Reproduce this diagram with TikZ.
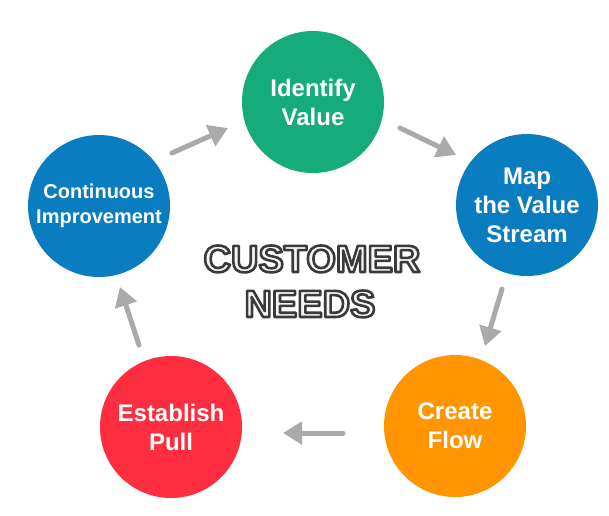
\documentclass[tikz,border=0pt]{standalone}
\usepackage{fontspec}
\setmainfont{Liberation Sans}
\usetikzlibrary{arrows.meta}
\definecolor{cgreen}{HTML}{15AB7B}
\definecolor{cblue}{HTML}{0A7DC0}
\definecolor{corange}{HTML}{FF9500}
\definecolor{cred}{HTML}{FE2E40}
\definecolor{carrow}{HTML}{AAAAAA}
\definecolor{cfill}{HTML}{F5F5F5}
\newcommand\cnOutline[1]{{\color{cfill}\special{pdf:literal direct 2 Tr 2.6 w 1 j 0.227 0.227 0.227 RG}#1\special{pdf:literal direct 0 Tr 1 w}}}
\tikzset{
  stage/.style={circle, minimum size=142pt, inner sep=0pt, text=white,
    font=\bfseries\fontsize{24}{29}\selectfont, align=center},
  smallstage/.style={stage, font=\bfseries\fontsize{20}{25}\selectfont},
  flowarrow/.style={draw=carrow, line width=5pt, line cap=round,
    -{Triangle[length=19pt,width=22pt]}},
  bigword/.style={anchor=base, inner sep=0pt, font=\bfseries\fontsize{38}{45}\selectfont}
}
\begin{document}
\begin{tikzpicture}[x=1pt,y=-1pt]
\useasboundingbox[fill=white] (0,0) rectangle (609,515);
\node[stage, fill=cgreen] (A) at (313,102) {Identify\\Value};
\node[stage, fill=cblue] (B) at (527,205) {Map\\the Value\\Stream};
\node[stage, fill=corange] (C) at (455,426) {Create\\Flow};
\node[stage, fill=cred] (D) at (171,427) {Establish\\Pull};
\node[smallstage, fill=cblue] (E) at (99,206) {Continuous\\Improvement};
% arrow ends
\coordinate (e1s) at (172,153); \coordinate (e1t) at (228,128);
\coordinate (e2s) at (400,128); \coordinate (e2t) at (456,155);
\coordinate (e3s) at (502,289); \coordinate (e3t) at (485,346);
\coordinate (e4s) at (343,433); \coordinate (e4t) at (283,433);
\coordinate (e5s) at (139,345); \coordinate (e5t) at (120,287);
\draw[flowarrow] (e1s) -- (e1t);
\draw[flowarrow] (e2s) -- (e2t);
\draw[flowarrow] (e3s) -- (e3t);
\draw[flowarrow] (e4s) -- (e4t);
\draw[flowarrow] (e5s) -- (e5t);
% center text
\node[bigword] (cust) at (312,272) {\cnOutline{CUSTOMER}};
\node[bigword] (need) at (310,317) {\cnOutline{NEEDS}};
\end{tikzpicture}
\end{document}
